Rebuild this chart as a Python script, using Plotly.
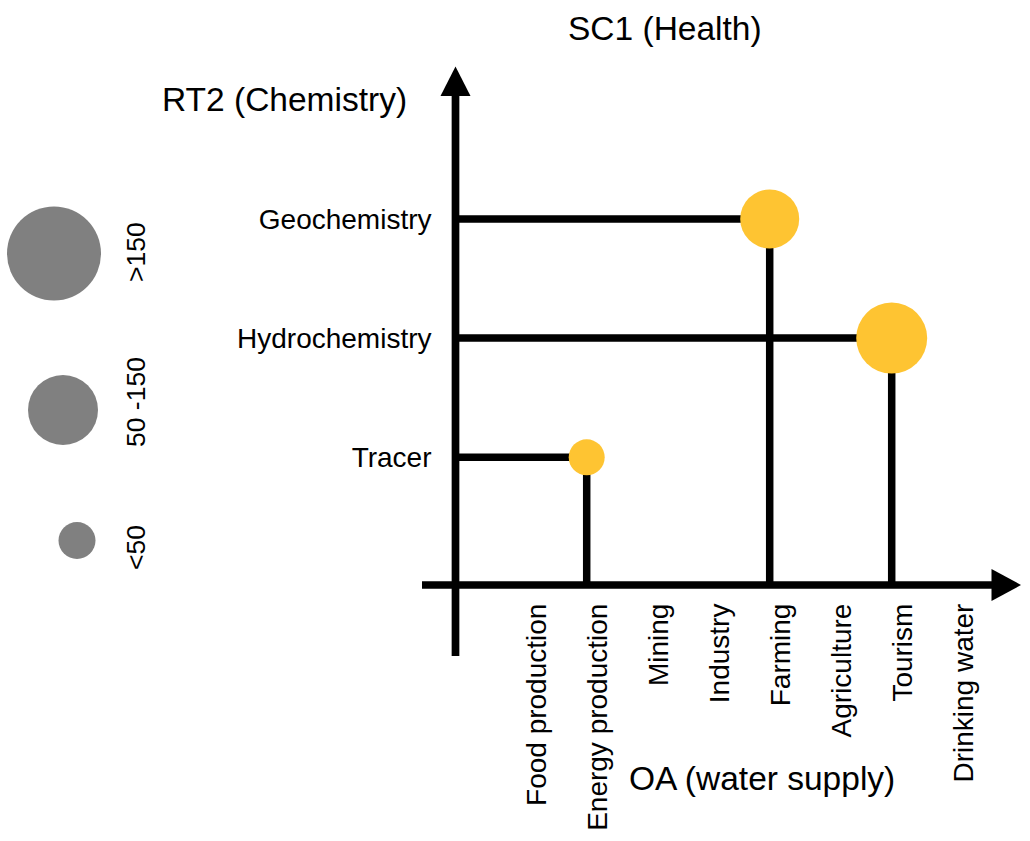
import plotly.graph_objects as go

W, H = 1030, 841

# ---------------- data ----------------
sectors = ["Food production", "Energy production", "Mining", "Industry",
           "Farming", "Agriculture", "Tourism", "Drinking water"]
methods = ["Tracer", "Hydrochemistry", "Geochemistry"]

link_method = ["Tracer", "Hydrochemistry", "Geochemistry"]
link_sector = ["Energy production", "Tourism", "Farming"]

legend_classes = [">150", "50 -150", "<50"]

title_top = "SC1 (Health)"
title_y = "RT2 (Chemistry)"
title_x = "OA (water supply)"

# ---------------- styles / layout geometry ----------------
FONT = "Liberation Sans, Arial, Helvetica, sans-serif"
BUBBLE_COLOR = "#FEC432"
LEGEND_COLOR = "#808080"
LINE_W = 7.5
bubble_px = [36, 71, 59]            # marker diameters for the three links
legend_px = [94, 70, 37]            # legend circle diameters
legend_cx = [54, 63, 77]            # legend circle centres (pixels)
legend_cy = [253.5, 410, 540.5]
legend_ty = [252, 402, 548]         # legend label centres (pixels)
legend_tx = 136

# pixel mapping of the category axes
X0, DX = 525.7, 61.0     # pixel x of first sector, spacing
Y0, DY = 457.3, 119.2    # pixel y of first method, spacing
AX_X_PX = 455.5          # pixel x of vertical axis
AX_Y_PX = 585.0          # pixel y of horizontal axis

xrange_ = [(0 - X0) / DX, (W - X0) / DX]
yrange_ = [(Y0 - H) / DY, Y0 / DY]
x_origin = (AX_X_PX - X0) / DX
y_origin = (Y0 - AX_Y_PX) / DY


def fx(px):
    return px / W


def fy(py):
    return 1 - py / H


fig = go.Figure()

# connector lines (from the vertical axis to the bubble, then down to the horizontal axis)
for m, s in zip(link_method, link_sector):
    xi = sectors.index(s)
    yj = methods.index(m)
    fig.add_trace(go.Scatter(
        x=[x_origin, xi, xi], y=[yj, yj, y_origin], mode="lines",
        line=dict(color="black", width=LINE_W), hoverinfo="skip",
        showlegend=False))

# bubbles
fig.add_trace(go.Scatter(
    x=[sectors.index(s) for s in link_sector],
    y=[methods.index(m) for m in link_method],
    mode="markers",
    marker=dict(size=bubble_px, color=BUBBLE_COLOR, opacity=1,
                line=dict(width=0)),
    showlegend=False))

# size legend (pixel axes)
fig.add_trace(go.Scatter(
    x=legend_cx, y=legend_cy, mode="markers", xaxis="x2", yaxis="y2",
    marker=dict(size=legend_px, color=LEGEND_COLOR, opacity=1, line=dict(width=0)),
    showlegend=False, text=legend_classes, hoverinfo="text"))

shapes = [
    # vertical axis
    dict(type="line", xref="paper", yref="paper",
         x0=fx(AX_X_PX), x1=fx(AX_X_PX), y0=fy(656), y1=fy(92),
         line=dict(color="black", width=7.7)),
    dict(type="path", xref="paper", yref="paper",
         path=f"M {fx(AX_X_PX)} {fy(66.5)} L {fx(440.5)} {fy(96)} L {fx(470.5)} {fy(96)} Z",
         fillcolor="black", line=dict(width=0)),
    # horizontal axis
    dict(type="line", xref="paper", yref="paper",
         x0=fx(422), x1=fx(994), y0=fy(AX_Y_PX), y1=fy(AX_Y_PX),
         line=dict(color="black", width=7.7)),
    dict(type="path", xref="paper", yref="paper",
         path=f"M {fx(1021)} {fy(AX_Y_PX)} L {fx(991.5)} {fy(569)} L {fx(991.5)} {fy(601)} Z",
         fillcolor="black", line=dict(width=0)),
]

annotations = [
    dict(text=title_top, x=fx(665), y=fy(28), xref="paper", yref="paper",
         showarrow=False, xanchor="center", yanchor="middle",
         font=dict(size=33.5, color="black", family=FONT)),
    dict(text=title_y, x=fx(284.5), y=fy(100), xref="paper", yref="paper",
         showarrow=False, xanchor="center", yanchor="middle",
         font=dict(size=33.5, color="black", family=FONT)),
    dict(text=title_x, x=fx(761.5), y=fy(778), xref="paper", yref="paper",
         showarrow=False, xanchor="center", yanchor="middle",
         font=dict(size=33.5, color="black", family=FONT)),
]
for lab, ty in zip(legend_classes, legend_ty):
    annotations.append(dict(
        text=lab, x=fx(legend_tx), y=fy(ty), xref="paper", yref="paper",
        showarrow=False, xanchor="center", yanchor="middle", textangle=-90,
        font=dict(size=26.5, color="black", family=FONT)))

fig.update_layout(
    width=W, height=H,
    margin=dict(l=0, r=0, t=0, b=0),
    paper_bgcolor="white", plot_bgcolor="white",
    showlegend=False,
    font=dict(family=FONT, color="black"),
    xaxis=dict(range=xrange_, tickvals=list(range(len(sectors))), ticktext=sectors,
               tickangle=-90, showgrid=False, zeroline=False, showline=False,
               ticks="", anchor="free", position=fy(AX_Y_PX),
               ticklabelstandoff=12, ticklabelshift=11,
               tickfont=dict(size=28, family=FONT, color="black"),
               fixedrange=True),
    yaxis=dict(range=yrange_, tickvals=list(range(len(methods))), ticktext=methods,
               showgrid=False, zeroline=False, showline=False, ticks="",
               anchor="free", position=fx(AX_X_PX), ticklabelstandoff=24,
               tickfont=dict(size=28, family=FONT, color="black"), fixedrange=True),
    xaxis2=dict(range=[0, W], overlaying="x", visible=False, fixedrange=True),
    yaxis2=dict(range=[H, 0], overlaying="y", visible=False, fixedrange=True),
    shapes=shapes,
    annotations=annotations,
)

fig.write_html("out.html", config={"displayModeBar": False},
               post_script="document.body.style.margin='0';document.body.style.overflow='hidden';")
